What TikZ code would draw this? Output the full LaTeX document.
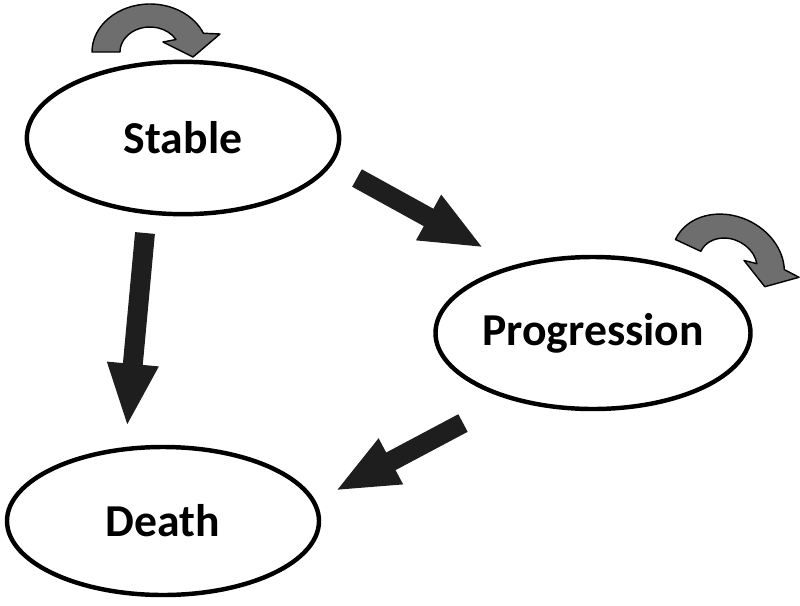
\documentclass[tikz,border=0pt]{standalone}
\usepackage{fontspec}
\setmainfont{Carlito}
\usetikzlibrary{shapes.geometric, arrows.meta}
\definecolor{arrowdark}{RGB}{30,30,30}
\definecolor{loopgray}{RGB}{110,110,110}

\tikzset{
  statebox/.style={ellipse, draw, line width=3.8pt, inner sep=0pt,
    font=\fontsize{39}{45}\selectfont\bfseries},
  bigarrow/.style={arrowdark, line width=17pt,
    -{Triangle[width=40pt, length=54pt]}},
  pics/selfloop/.style={code={
    \filldraw[fill=loopgray, line width=1.2pt, line join=round]
      (-58,0) arc[start angle=180, end angle=23, x radius=1.74cm, y radius=1.44cm]
      -- (70,-18) -- (43,5) -- (13,-10) -- (26,-12.5)
      arc[start angle=30, end angle=180, x radius=0.9cm, y radius=0.75cm] -- cycle;
  }}
}

\begin{document}
\begin{tikzpicture}[x=0.03cm, y=-0.03cm]
    \useasboundingbox (0,0) rectangle (800,605);

    % States
    \node[statebox, minimum width=9.37cm, minimum height=4.57cm] (stable) at (183,138) {\raisebox{-3pt}{Stable}};
    \node[statebox, minimum width=9.45cm, minimum height=4.56cm] (progression) at (593,333) {Progression};
    \node[statebox, minimum width=9.36cm, minimum height=4.44cm] (death) at (163,521) {\raisebox{-7pt}{Death}};

    % Free ends of the transitions
    \coordinate (stable-out1) at (145,233);
    \coordinate (death-in1) at (127,427);
    \coordinate (stable-out2) at (357,178);
    \coordinate (progression-in) at (484,248);
    \coordinate (progression-out) at (463,423);
    \coordinate (death-in2) at (335,491);

    % Transitions
    \draw[bigarrow] (stable-out1) -- (death-in1);
    \draw[bigarrow] (stable-out2) -- (progression-in);
    \draw[bigarrow] (progression-out) -- (death-in2);

    % Staying in the same state
    \pic at (150,52) {selfloop};
    \pic[rotate=-25] at (728,264) {selfloop};
\end{tikzpicture}
\end{document}
